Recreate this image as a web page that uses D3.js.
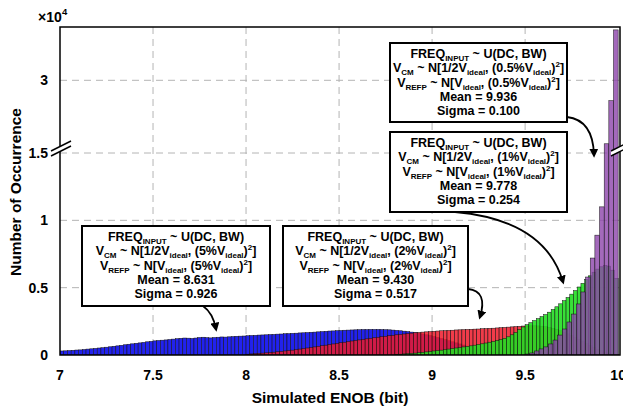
<!DOCTYPE html>
<html>
<head>
<meta charset="utf-8">
<script src="https://cdn.jsdelivr.net/npm/d3@7"></script>
<style>
body { margin: 0; background: #fff; }
text { font-family: "Liberation Sans", Arial, sans-serif; font-weight: bold; fill: #000; }
</style>
</head>
<body>
<svg id="chart" width="623" height="410"></svg>
<script>
// ---- data (counts per bin) ----
const binWidth = 0.02;
const purpleBinWidth = 0.025;

const blueStart = 7.0;
const blueCounts = [
  300, 310, 330, 350, 370, 380, 410, 440, 460, 490,
  520, 540, 580, 610, 650, 680, 720, 760, 800, 830,
  870, 900, 940, 980, 1010, 1050, 1080, 1100, 1120, 1150,
  1180, 1210, 1240, 1260, 1250, 1230, 1260, 1300, 1320, 1290,
  1270, 1300, 1320, 1340, 1330, 1350, 1370, 1390, 1400, 1410,
  1430, 1450, 1460, 1480, 1490, 1500, 1520, 1530, 1550, 1560,
  1580, 1590, 1610, 1620, 1640, 1650, 1670, 1690, 1700, 1720,
  1740, 1760, 1780, 1790, 1810, 1820, 1840, 1850, 1860, 1870,
  1880, 1890, 1890, 1900, 1900, 1900, 1890, 1880, 1870, 1850,
  1830, 1800, 1770, 1740, 1700, 1660, 1610, 1560, 1500, 1440,
  1370, 1300, 1220, 1140, 1060, 980, 900, 820, 740, 660,
  590, 520, 450, 390, 330, 280, 230, 180, 140, 100
];

const redStart = 8.0;
const redCounts = [
  60, 80, 100, 120, 140, 160, 190, 210, 240, 270,
  300, 330, 360, 400, 440, 480, 520, 560, 600, 650,
  690, 730, 780, 820, 870, 910, 950, 1000, 1040, 1080,
  1120, 1160, 1200, 1240, 1280, 1320, 1360, 1390, 1430, 1460,
  1500, 1530, 1560, 1590, 1620, 1650, 1680, 1700, 1720, 1740,
  1760, 1780, 1800, 1810, 1830, 1840, 1860, 1870, 1880, 1900,
  1910, 1920, 1930, 1950, 1960, 1980, 1990, 2010, 2030, 2050,
  2070, 2090, 2110, 2130, 2150, 2160, 2170, 2170, 2160, 2140,
  2100, 2050, 1980, 1900, 1800, 1690, 1570, 1440, 1300, 1150,
  1000, 850, 700, 560, 430, 320, 220, 140, 80, 40
];

const greenStart = 8.8;
const greenCounts = [
  50, 60, 80, 100, 120, 140, 170, 200, 230, 260,
  300, 330, 360, 400, 440, 480, 520, 560, 600, 640,
  680, 730, 780, 830, 890, 950, 1010, 1080, 1150, 1230,
  1350, 1500, 1680, 1880, 2080, 2250, 2400, 2550, 2700, 2850,
  3000, 3180, 3380, 3580, 3800, 4030, 4270, 4520, 4780, 5050,
  5320, 5600, 5880, 6150, 6380, 6550, 6650, 6600, 6300, 5700
];

const purpleStart = 9.5;
const purpleCounts = [
  74, 150, 300, 450, 600, 820, 1110, 1480, 1930, 2450,
  3040, 3790, 4680, 5790, 7200, 8900, 11000, 16900, 25800, 40400
];

const xTicks = [7, 7.5, 8, 8.5, 9, 9.5, 10];
const yTicks = [0, 5000, 10000, 15000, 30000];
const yTickLabels = ["0", "0.5", "1", "1.5", "3"];

// annotation texts, one per series (blue, red, green, purple)
const spreads = ["5%", "2%", "1%", "0.5%"];
const means = ["8.631", "9.430", "9.778", "9.936"];
const sigmas = ["0.926", "0.517", "0.254", "0.100"];

// ---- layout ----
const W = 623, H = 410;
const margin = {top: 27, right: 3, bottom: 55, left: 60};
const iw = W - margin.left - margin.right;
const ih = H - margin.top - margin.bottom;

const svg = d3.select("#chart");
const g = svg.append("g").attr("transform", `translate(${margin.left},${margin.top})`);

const x = d3.scaleLinear().domain([7, 10.01]).range([0, iw]);
// broken axis: 0..1.5e4 on the lower part, compressed above it
const y = d3.scaleLinear().domain([0, 15000, 41000]).range([ih, 126, 0]);

g.append("clipPath").attr("id", "clip")
  .append("rect").attr("width", iw).attr("height", ih);

// grid
g.append("g").selectAll("line").data(xTicks.slice(1, -1)).join("line")
  .attr("x1", d => x(d)).attr("x2", d => x(d))
  .attr("y1", 0).attr("y2", ih)
  .attr("stroke", "#b4b4b4").attr("stroke-dasharray", "7,5");
g.append("g").selectAll("line").data(yTicks.slice(1)).join("line")
  .attr("x1", 0).attr("x2", iw)
  .attr("y1", d => y(d)).attr("y2", d => y(d))
  .attr("stroke", "#b4b4b4").attr("stroke-dasharray", "7,5");

// histogram bars
const series = [
  {start: blueStart, bw: binWidth, counts: blueCounts, fill: "#2222ee", op: 1},
  {start: redStart, bw: binWidth, counts: redCounts, fill: "#ee1a2a", op: 0.85},
  {start: greenStart, bw: binWidth, counts: greenCounts, fill: "#22dd22", op: 0.9},
  {start: purpleStart, bw: purpleBinWidth, counts: purpleCounts, fill: "#8c44aa", op: 0.8}
];
const bars = g.append("g").attr("clip-path", "url(#clip)");
series.forEach(s => {
  bars.append("g").selectAll("rect").data(s.counts).join("rect")
    .attr("x", (d, i) => x(s.start + i * s.bw))
    .attr("width", x(7 + s.bw) - x(7))
    .attr("y", d => y(d))
    .attr("height", d => y(0) - y(d))
    .attr("fill", s.fill).attr("fill-opacity", s.op)
    .attr("stroke", "#111").attr("stroke-width", 0.5);
});

// frame
g.append("rect").attr("width", iw).attr("height", ih)
  .attr("fill", "none").attr("stroke", "#000").attr("stroke-width", 1.5);

// axis break marks
[0, iw].forEach(bx => {
  const cy = y(15000) - 9;
  const bg = g.append("g").attr("transform", `translate(${bx},${cy})`);
  bg.append("path").attr("d", "M-9,7 L11,-3 L11,2 L-9,12 Z").attr("fill", "#fff");
  bg.append("line").attr("x1", -9).attr("y1", 7).attr("x2", 11).attr("y2", -3).attr("stroke", "#000").attr("stroke-width", 1.5);
  bg.append("line").attr("x1", -9).attr("y1", 12).attr("x2", 11).attr("y2", 2).attr("stroke", "#000").attr("stroke-width", 1.5);
});

// tick labels
g.append("g").selectAll("text").data(xTicks).join("text")
  .attr("x", d => x(d)).attr("y", ih + 25)
  .attr("text-anchor", "middle").attr("font-size", 14)
  .text(d => d);
g.append("g").selectAll("text").data(yTicks).join("text")
  .attr("x", -12).attr("y", d => y(d) + 5)
  .attr("text-anchor", "end").attr("font-size", 14)
  .text((d, i) => yTickLabels[i]);

// exponent of the y axis
svg.append("text").attr("x", 38).attr("y", 22).attr("font-size", 14).text("×10");
svg.append("text").attr("x", 62).attr("y", 15).attr("font-size", 9.5).text("4");

// axis titles
svg.append("text").attr("x", margin.left + iw / 2 - 10).attr("y", 403)
  .attr("text-anchor", "middle").attr("font-size", 15.5).text("Simulated ENOB (bit)");
svg.append("text").attr("transform", "translate(21,192) rotate(-90)")
  .attr("text-anchor", "middle").attr("font-size", 15.5).text("Number of Occurrence");

// annotation boxes
const boxes = [
  {x: 82, y: 226, w: 188, h: 80, arrow: "M203,306 Q213,313 216,329"},
  {x: 283, y: 226, w: 185, h: 80, arrow: "M468,289 Q488,291 480,317"},
  {x: 390, y: 132, w: 177, h: 80, arrow: "M455,212 Q545,220 563,282"},
  {x: 390, y: 43, w: 177, h: 79, arrow: "M567,117 Q593,120 594,155"}
];

svg.append("defs").append("marker").attr("id", "arr")
  .attr("viewBox", "0 0 10 10").attr("refX", 7).attr("refY", 5)
  .attr("markerWidth", 9).attr("markerHeight", 9)
  .attr("markerUnits", "userSpaceOnUse").attr("orient", "auto")
  .append("path").attr("d", "M0,0 L10,5 L0,10 Z").attr("fill", "#000");

function lineParts(i) {
  const p = spreads[i];
  return [
    [["FREQ", 0], ["INPUT", 1], [" ~ U(DC, BW)", 0]],
    [["V", 0], ["CM", 1], [" ~ N[1/2V", 0], ["ideal", 1], [", (" + p + "V", 0], ["ideal", 1], [")", 0], ["2", -1], ["]", 0]],
    [["V", 0], ["REFP", 1], [" ~ N[V", 0], ["ideal", 1], [", (" + p + "V", 0], ["ideal", 1], [")", 0], ["2", -1], ["]", 0]],
    [["Mean = " + means[i], 0]],
    [["Sigma = " + sigmas[i], 0]]
  ];
}

boxes.forEach((b, i) => {
  svg.append("path").attr("d", b.arrow).attr("fill", "none")
    .attr("stroke", "#000").attr("stroke-width", 1.8).attr("marker-end", "url(#arr)");
  svg.append("rect").attr("x", b.x).attr("y", b.y).attr("width", b.w).attr("height", b.h)
    .attr("fill", "#fff").attr("stroke", "#000").attr("stroke-width", 2);
  lineParts(i).forEach((parts, li) => {
    const t = svg.append("text").attr("x", b.x + b.w / 2).attr("y", b.y + 15 + li * 14.3)
      .attr("text-anchor", "middle").attr("font-size", 12.5);
    let cur = 0;
    parts.forEach(([s, k]) => {
      const off = k === 1 ? 3 : (k === -1 ? -5 : 0);
      t.append("tspan").attr("dy", off - cur).attr("font-size", k === 0 ? 12.5 : 8).text(s);
      cur = off;
    });
  });
});
</script>
</body>
</html>
